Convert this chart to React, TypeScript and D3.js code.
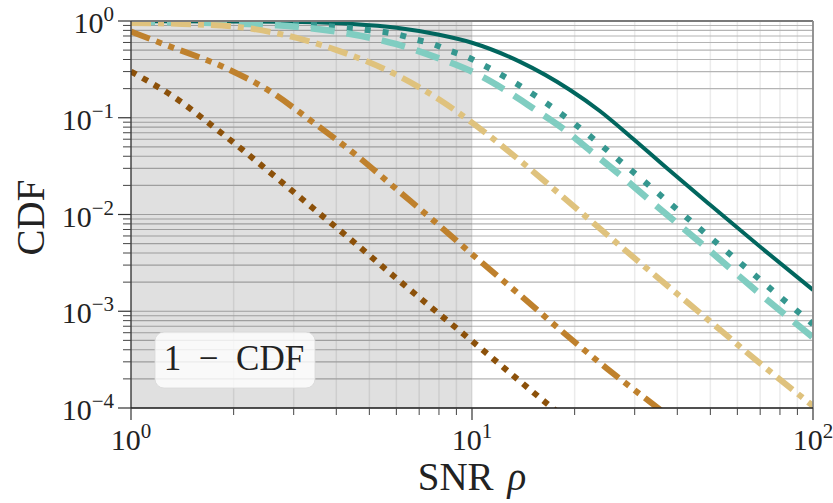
import React from "react";
import * as d3 from "d3";

// ---- data ----
const solidX = [1, 1.995, 3.162, 4.467, 6.012, 7.943, 10, 13.8, 19.39, 23.71, 29.72, 37.24, 49.89, 71.45, 100];
const solidY = [0.9954, 0.9908, 0.9772, 0.9333, 0.8511, 0.7244, 0.5957, 0.3802, 0.1936, 0.1175, 0.0603, 0.0302, 0.01259, 0.004365, 0.00166];

const tealDotX = [1, 1.995, 3.162, 3.981, 4.797, 6.152, 6.808, 7.709, 8.61, 9.638, 10.79, 14.62, 19.59, 28.44, 41.21, 59.02, 85.51, 100];
const tealDotY = [0.9908, 0.9727, 0.9226, 0.871, 0.8166, 0.7161, 0.6471, 0.5754, 0.4932, 0.4276, 0.3508, 0.189, 0.0912, 0.0312, 0.01028, 0.003524, 0.001161, 0.000733];

const lightDashX = [1, 1.585, 2.673, 4.009, 6.012, 8.054, 10.09, 12.59, 15.14, 18.45, 22.28, 27.04, 32.36, 47.64, 66.83, 100];
const lightDashY = [0.9817, 0.9594, 0.9016, 0.7762, 0.5754, 0.4074, 0.2951, 0.1905, 0.1245, 0.0776, 0.0453, 0.026, 0.01514, 0.00484, 0.001726, 0.000537];

const tanX = [1, 1.413, 2.042, 3.062, 4.009, 6.012, 8.054, 10.09, 14.13, 20.28, 30.41, 47.64, 68.39, 100];
const tanY = [0.955, 0.933, 0.871, 0.668, 0.501, 0.2767, 0.1524, 0.0871, 0.0339, 0.01148, 0.00339, 0.000902, 0.000309, 0.000105];

const orangeX = [1, 1.259, 1.905, 2.512, 3.428, 4.592, 6.012, 8.054, 10, 13.8, 18.11, 24.83, 34.83, 36.3];
const orangeY = [0.776, 0.569, 0.3236, 0.195, 0.0891, 0.0407, 0.0182, 0.00759, 0.00389, 0.00148, 0.000646, 0.000257, 0.000102, 0.0000912];

const brownX = [1, 1.39, 1.72, 2.13, 2.64, 3.5, 4.59, 6.0, 7.96, 9.86, 12.9, 17.1, 18.5];
const brownY = [0.3, 0.149, 0.084, 0.0462, 0.0248, 0.01084, 0.0049, 0.00219, 0.000955, 0.000513, 0.000232, 0.000102, 0.000082];

const xMajor = [1, 10, 100];
const xMajorExp = ["0", "1", "2"];
const yMajor = [1, 0.1, 0.01, 0.001, 0.0001];
const yMajorExp = ["0", "\u22121", "\u22122", "\u22123", "\u22124"];
const shadeRange = [1, 10];

const xLabel = "SNR";
const xLabelSym = "\u03c1";
const yLabel = "CDF";
const boxText = "1 \u2212 CDF";

const series = [
  { xs: solidX, ys: solidY, color: "#01665e", width: 4, dash: "" },
  { xs: tealDotX, ys: tealDotY, color: "#35978f", width: 6, dash: "6 12" },
  { xs: lightDashX, ys: lightDashY, color: "#80cdc1", width: 6.5, dash: "24 12" },
  { xs: tanX, ys: tanY, color: "#dfc27d", width: 6, dash: "20 7 6 7" },
  { xs: orangeX, ys: orangeY, color: "#bf812d", width: 6, dash: "20 7 6 7 6 7" },
  { xs: brownX, ys: brownY, color: "#8c510a", width: 6, dash: "6 7.2" },
];

const FONT = "'Liberation Serif', 'DejaVu Serif', serif";

export default function App() {
  const W = 833, H = 503;
  const L = 131, R = 813, T = 21, B = 408;
  const x = d3.scaleLog().domain([1, 100]).range([L, R]);
  const y = d3.scaleLog().domain([1e-4, 1]).range([B, T]);

  const minorX: number[] = [];
  [1, 10].forEach((d) => { for (let k = 2; k <= 9; k++) minorX.push(d * k); });
  const minorY: number[] = [];
  [1e-4, 1e-3, 1e-2, 1e-1].forEach((d) => { for (let k = 2; k <= 9; k++) minorY.push(d * k); });

  const line = d3.line<[number, number]>()
    .x((d) => x(d[0]))
    .y((d) => y(d[1]))
    .curve(d3.curveMonotoneX);

  return (
    <svg width={W} height={H} style={{ position: "absolute", left: 0, top: 0, background: "#fff" }}>
      <defs>
        <clipPath id="plotclip">
          <rect x={L} y={T} width={R - L} height={B - T} />
        </clipPath>
      </defs>
      {/* vertical grid */}
      {[...xMajor, ...minorX].map((v, i) => (
        <line key={"vg" + i} x1={x(v)} x2={x(v)} y1={T} y2={B} stroke="#ebebeb" strokeWidth={1.5} />
      ))}
      {/* horizontal grid */}
      {[...yMajor, ...minorY].map((v, i) => (
        <line key={"hg" + i} x1={L} x2={R} y1={y(v)} y2={y(v)} stroke="#b4b4b4" strokeWidth={1.1} />
      ))}
      {/* shaded region */}
      <rect x={x(shadeRange[0])} y={T} width={x(shadeRange[1]) - x(shadeRange[0])} height={B - T} fill="#000" fillOpacity={0.12} />
      {/* curves */}
      <g clipPath="url(#plotclip)">
        {series.map((s, i) => (
          <path
            key={"s" + i}
            d={line(s.xs.map((v, j) => [v, s.ys[j]] as [number, number])) || ""}
            fill="none"
            stroke={s.color}
            strokeWidth={s.width}
            strokeDasharray={s.dash || undefined}
            strokeLinecap="butt"
            strokeLinejoin="round"
          />
        ))}
      </g>
      {/* spines */}
      <line x1={L} x2={R} y1={T} y2={T} stroke="#7a7a7a" strokeWidth={1.8} />
      <line x1={R} x2={R} y1={T} y2={B} stroke="#8a8a8a" strokeWidth={1.8} />
      <line x1={L} x2={L} y1={T} y2={B} stroke="#333" strokeWidth={1.3} />
      <line x1={L} x2={R} y1={B} y2={B} stroke="#222" strokeWidth={1.3} />
      {/* x ticks */}
      {xMajor.map((v, i) => (
        <g key={"xt" + i}>
          <line x1={x(v)} x2={x(v)} y1={B} y2={B + 12} stroke="#333" strokeWidth={1.2} />
          <text x={x(v)} y={450} textAnchor="middle" fontFamily={FONT} fontSize={30} fill="#222">
            10<tspan dy={-12} fontSize={21}>{xMajorExp[i]}</tspan>
          </text>
        </g>
      ))}
      {minorX.map((v, i) => (
        <line key={"xm" + i} x1={x(v)} x2={x(v)} y1={B} y2={B + 7} stroke="#444" strokeWidth={1} />
      ))}
      {/* y ticks */}
      {yMajor.map((v, i) => (
        <g key={"yt" + i}>
          <line x1={L - 13} x2={L} y1={y(v)} y2={y(v)} stroke="#333" strokeWidth={1.2} />
          <text x={L - 17} y={y(v) + 12} textAnchor="end" fontFamily={FONT} fontSize={30} fill="#222">
            10<tspan dy={-12} fontSize={21}>{yMajorExp[i]}</tspan>
          </text>
        </g>
      ))}
      {minorY.map((v, i) => (
        <line key={"ym" + i} x1={L - 8} x2={L} y1={y(v)} y2={y(v)} stroke="#444" strokeWidth={1} />
      ))}
      {/* axis labels */}
      <text x={(L + R) / 2} y={490} textAnchor="middle" fontFamily={FONT} fontSize={39} fill="#222">
        {xLabel}<tspan dx={14} fontStyle="italic">{xLabelSym}</tspan>
      </text>
      <text transform={`translate(44, ${(T + B) / 2 + 3}) rotate(-90)`} textAnchor="middle" fontFamily={FONT} fontSize={39} fill="#222">
        {yLabel}
      </text>
      {/* annotation box */}
      <rect x={155} y={332} width={160} height={56} rx={9} fill="#fff" fillOpacity={0.8} stroke="#d9d9d9" strokeOpacity={0.8} strokeWidth={1} />
      <text x={234} y={370} textAnchor="middle" fontFamily={FONT} fontSize={35} fill="#222" style={{ whiteSpace: "pre" }}>{"1  \u2212  CDF"}</text>
    </svg>
  );
}
